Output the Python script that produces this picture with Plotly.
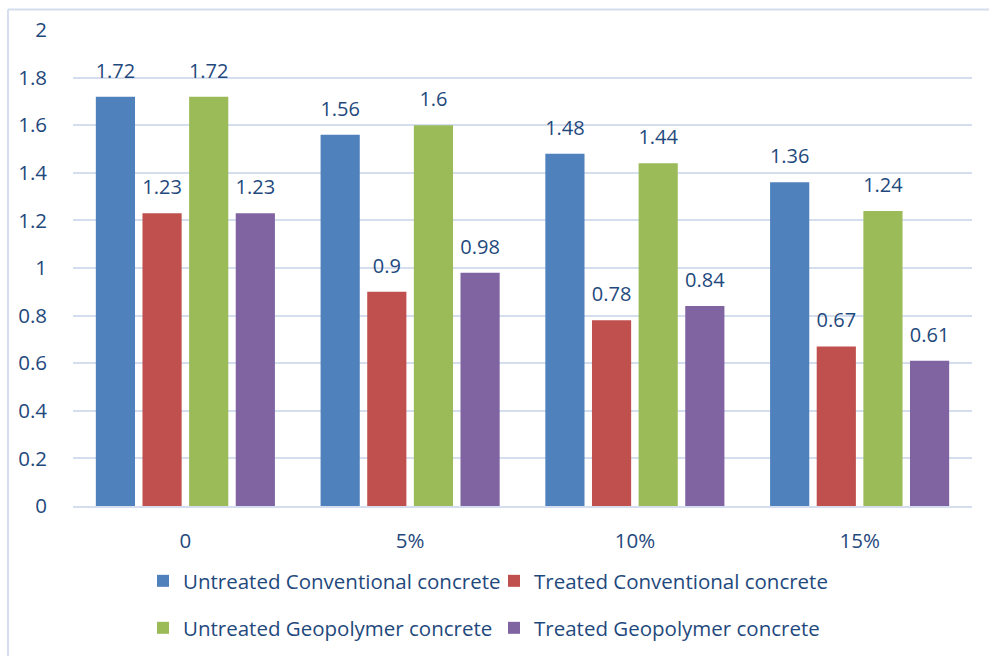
import plotly.graph_objects as go

categories = ["0", "5%", "10%", "15%"]
untreated_conv = [1.72, 1.56, 1.48, 1.36]
treated_conv = [1.23, 0.9, 0.78, 0.67]
untreated_geo = [1.72, 1.6, 1.44, 1.24]
treated_geo = [1.23, 0.98, 0.84, 0.61]

series = [
    ("Untreated Conventional concrete", untreated_conv, "#4F81BD", "legend"),
    ("Treated Conventional concrete", treated_conv, "#C0504D", "legend"),
    ("Untreated Geopolymer concrete", untreated_geo, "#9BBB59", "legend2"),
    ("Treated Geopolymer concrete", treated_geo, "#8064A2", "legend2"),
]

text_color = "#1F497D"
font_family = "Open Sans, Liberation Sans, sans-serif"

fig = go.Figure()
for i, (name, vals, col, lg) in enumerate(series):
    fig.add_trace(go.Bar(
        x=categories, y=vals, name=name, legend=lg,
        marker=dict(color=col, line=dict(width=0)),
        offsetgroup=str(i),
    ))
for i, (name, vals, col, lg) in enumerate(series):
    fig.add_trace(go.Scatter(
        x=categories, y=vals, mode="markers+text", showlegend=False,
        offsetgroup=str(i),
        marker=dict(size=21, opacity=0),
        text=[f"{v:g}" for v in vals], textposition="top center",
        textfont=dict(size=20, color=text_color, family=font_family),
        cliponaxis=False, hoverinfo="skip",
    ))

W, H = 989, 656
L, R, T, B = 73, 17, 30, 150
pw, ph = W - L - R, H - T - B

def px_x(x):
    return (x - L) / pw

def px_y(y):
    return (H - B - y) / ph

legend_common = dict(orientation="h", xanchor="left", yanchor="middle",
                     entrywidth=306, entrywidthmode="pixels",
                     font=dict(size=20.5, color=text_color, family=font_family),
                     itemwidth=30, bgcolor="rgba(0,0,0,0)")

fig.update_layout(
    width=W, height=H,
    margin=dict(l=L, r=R, t=T, b=B, autoexpand=False),
    paper_bgcolor="white", plot_bgcolor="white",
    barmode="group", bargap=0.17, bargroupgap=0.16,
    scattermode="group", scattergap=0.17,
    font=dict(family=font_family, size=20, color=text_color),
    xaxis=dict(showgrid=False, showline=True, linecolor="#D4DEEE", linewidth=2,
               ticks="", tickfont=dict(size=20.5, color=text_color), ticklabelstandoff=15,
               automargin=False),
    yaxis=dict(range=[0, 2], dtick=0.2, showgrid=True, gridcolor="#D4DEEE", gridwidth=2,
               zeroline=False, showline=False, ticks="",
               tickfont=dict(size=20.5, color=text_color), ticklabelstandoff=25,
               tickformat="~g", automargin=False),
    legend=dict(x=px_x(143), y=px_y(581), **legend_common),
    legend2=dict(x=px_x(143), y=px_y(628), **legend_common),
    shapes=[
        dict(type="line", xref="paper", yref="paper",
             x0=px_x(8), x1=px_x(989), y0=px_y(9.5), y1=px_y(9.5),
             line=dict(color="#D4DEEE", width=2), layer="below"),
        dict(type="line", xref="paper", yref="paper",
             x0=px_x(8), x1=px_x(8), y0=px_y(9.5), y1=px_y(656),
             line=dict(color="#D4DEEE", width=2), layer="below"),
    ],
)

fig.write_html("out.html")
